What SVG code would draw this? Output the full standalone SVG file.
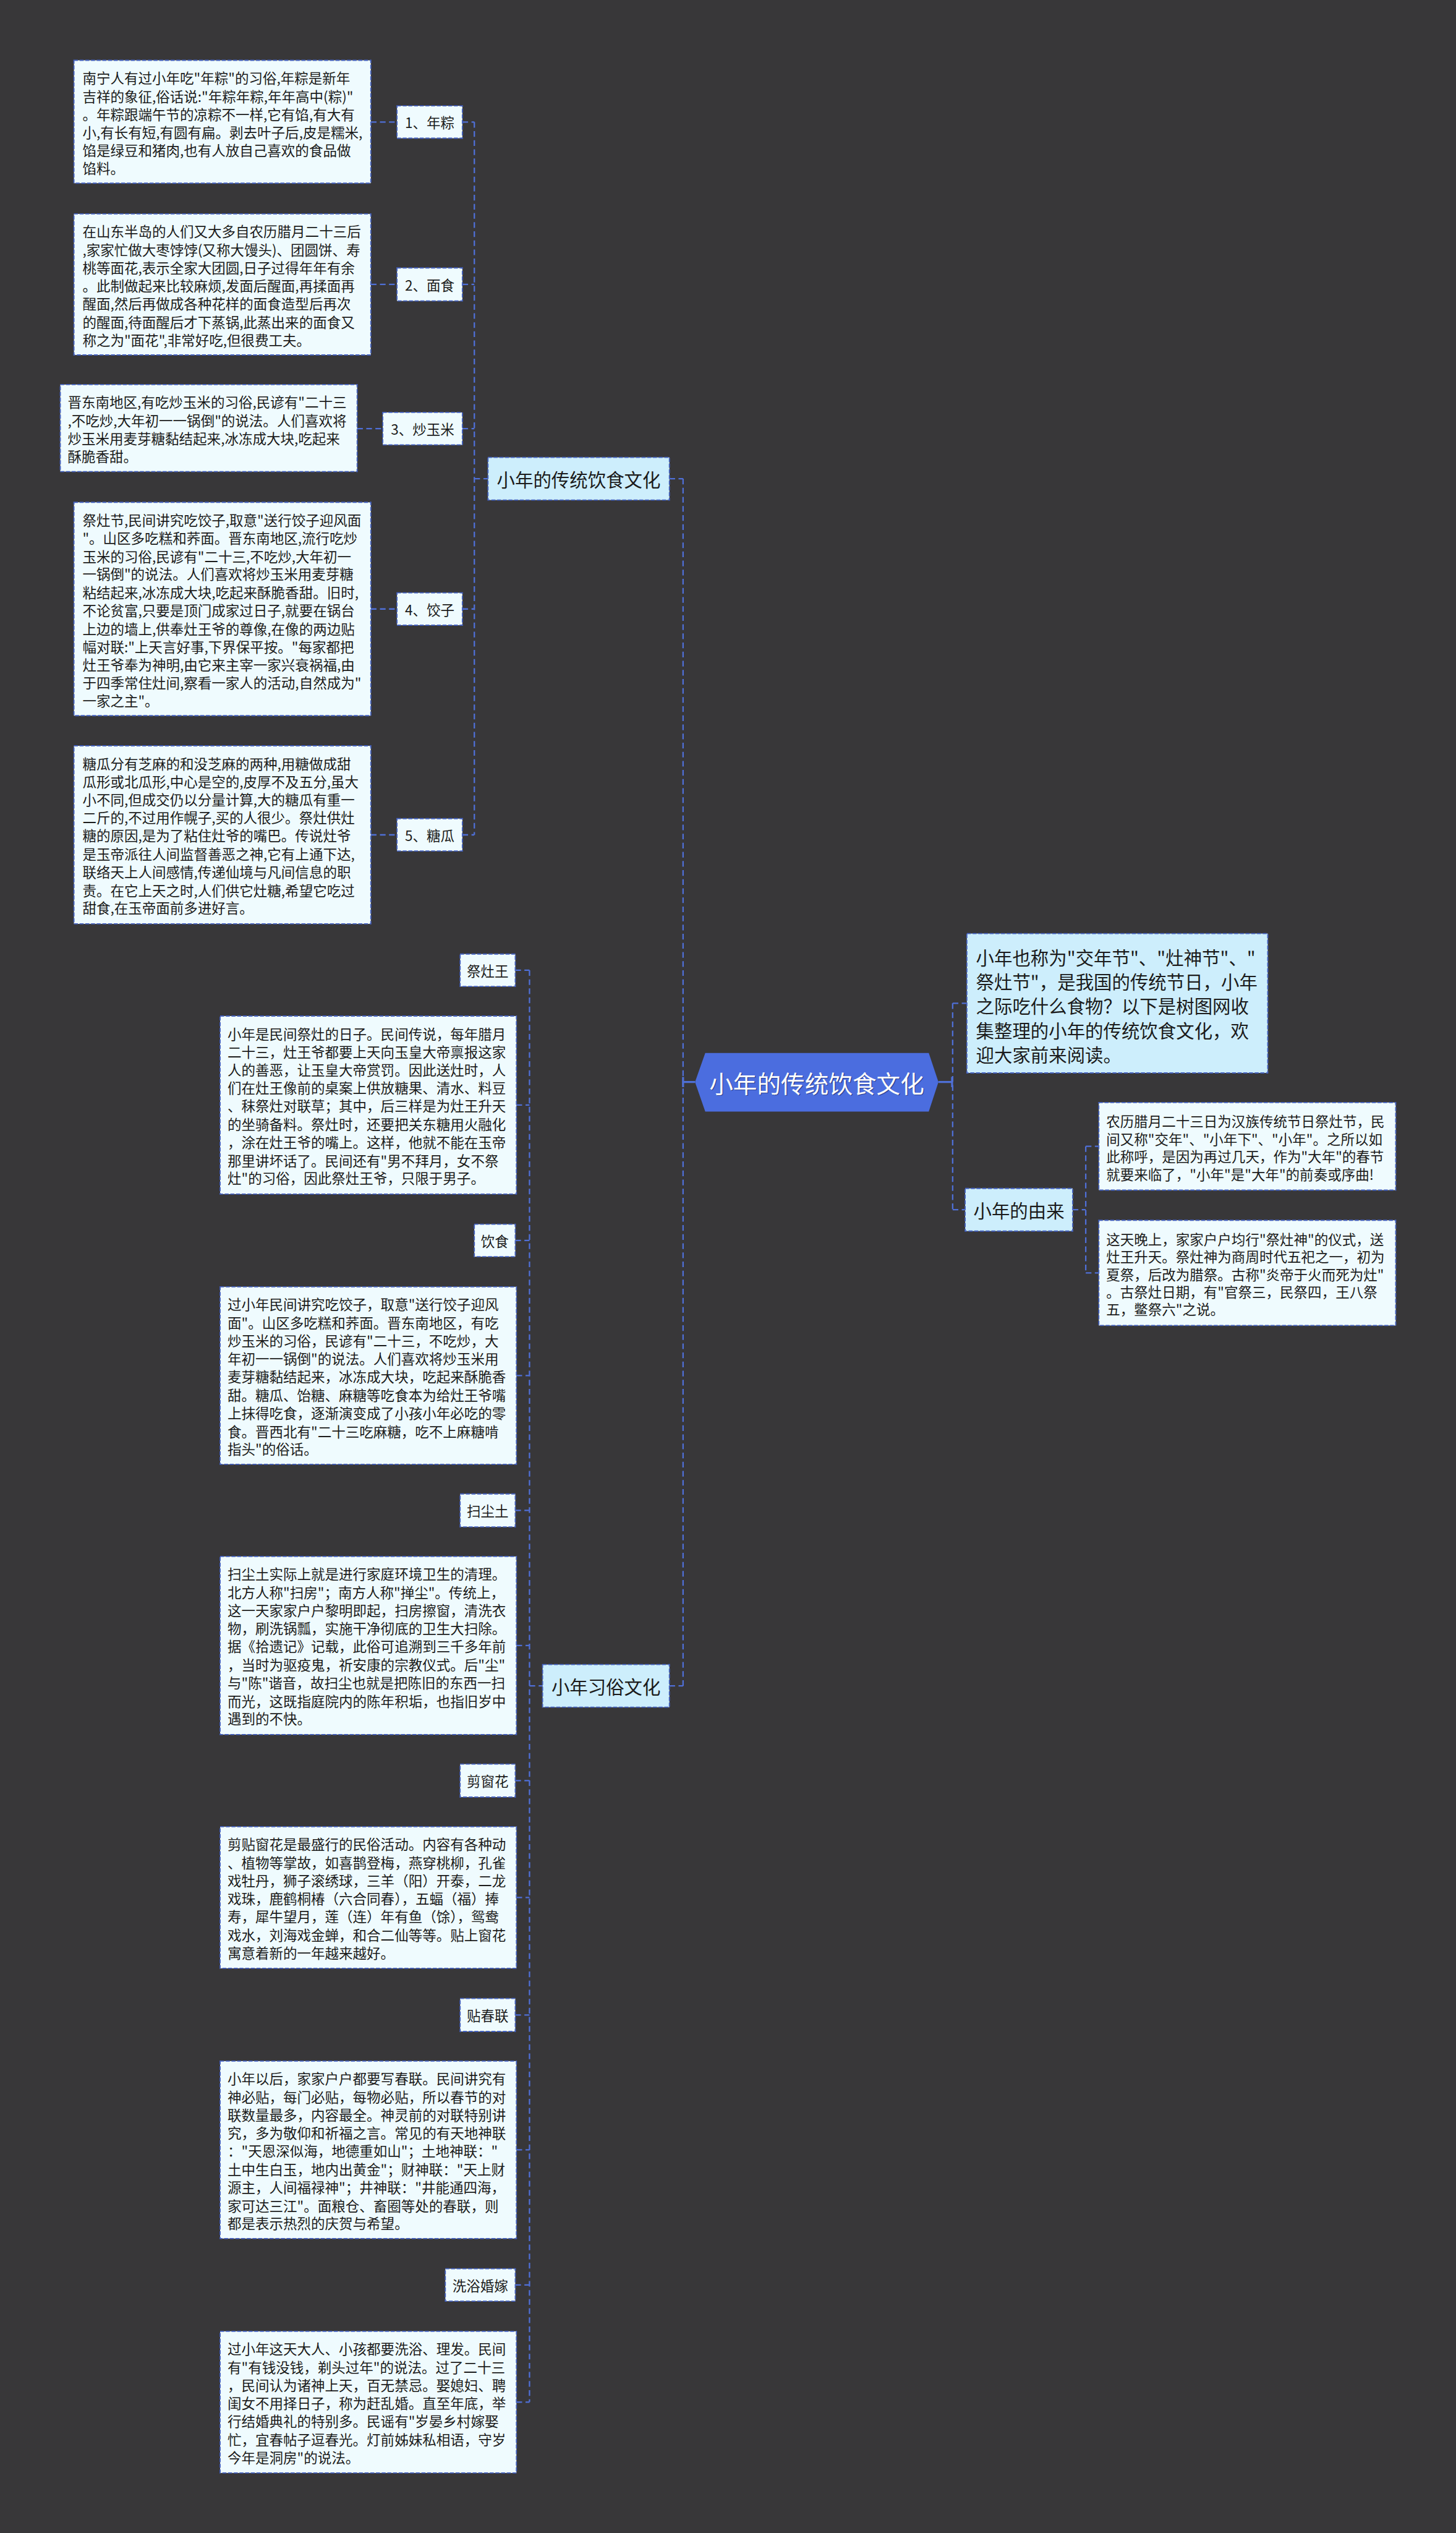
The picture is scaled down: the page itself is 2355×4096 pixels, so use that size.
<svg xmlns="http://www.w3.org/2000/svg" width="2355" height="4096" viewBox="0 0 2355 4096">
<defs>
<style>
.leaf{fill:#effbfe;stroke:#4562c0;stroke-width:2;stroke-dasharray:7 3}
.main{fill:#cdeefc;stroke:#4562c0;stroke-width:2;stroke-dasharray:7 3}
.t{font-family:"Noto Sans CJK SC","Noto Sans",sans-serif;font-size:24.5px;fill:#1b1b1b;dominant-baseline:central}
.m{font-family:"Noto Sans CJK SC","Noto Sans",sans-serif;font-size:32px;fill:#1b1b1b;dominant-baseline:central}
.lb{text-anchor:middle}
.c{fill:none;stroke:#4f6fd6;stroke-width:2.5;stroke-dasharray:10 6}
.s{fill:none;stroke:#4f6fd6;stroke-width:3.5}
</style>
</defs>
<rect x="0" y="0" width="2355" height="4096" fill="#383739"/>
<g transform="scale(0.91992)">
<g id="connectors">
<path class="c" d="M834 214.5V1467.5M813 214.5H834M813 500H834M813 753.5H834M813 1070.5H834M813 1467.5H834M652 214.5H698M652 500H698M628 753.5H673M652 1070.5H698M652 1467.5H698M834 841.5H858"/>
<path class="c" d="M1177 841.5H1201M1201 841.5V2963.5M1177 2963.5H1201"/>
<path class="c" d="M1675 1763.5V2126.5M1675 1763.5H1700M1675 2126.5H1697M1886 2126.5H1909M1909 2015V2237.5M1909 2015H1932M1909 2237.5H1932"/>
<path class="c" d="M931 1705.5V4222.5M906 1705.5H931M908 1942.5H931M906 2180.5H931M908 2418H931M906 2655H931M908 2892.5H931M931 2963.5H954M906 3130H931M908 3335.5H931M906 3542H931M908 3779H931M906 4016.5H931M908 4222.5H931"/>
<path class="s" d="M1201 1902H1222M1201 1893V1911M1650 1902H1674M1674 1893V1911"/>
</g>
<g id="root">
<polygon points="1240,1851 1633,1851 1650,1902 1633,1954 1240,1954 1222,1902" fill="#4b6ddf"/>
<text x="1437.5" y="1903.5" font-family="Noto Sans CJK SC, Noto Sans, sans-serif" font-size="42" text-anchor="middle" dominant-baseline="central" fill="#1d2a5c" opacity="0.6">小年的传统饮食文化</text>
<text x="1436" y="1902" font-family="Noto Sans CJK SC, Noto Sans, sans-serif" font-size="42" text-anchor="middle" dominant-baseline="central" fill="#ffffff">小年的传统饮食文化</text>
</g>
<g id="n-food">
<rect class="main" x="858" y="804" width="319" height="75"/>
<text class="m lb" x="1017.5" y="841.5">小年的传统饮食文化</text>
</g>
<g id="n-custom">
<rect class="main" x="954" y="2926" width="223" height="75"/>
<text class="m lb" x="1065.5" y="2963.5">小年习俗文化</text>
</g>
<g id="n-origin">
<rect class="main" x="1697" y="2089" width="189" height="75"/>
<text class="m lb" x="1791.5" y="2126.5">小年的由来</text>
</g>
<g id="n-intro">
<rect class="main" x="1700" y="1641" width="529" height="245" fill="#c9ecfc"/>
<text class="m" x="1716"><tspan x="1716" y="1682">小年也称为"交年节"、"灶神节"、"</tspan><tspan x="1716" y="1724.5">祭灶节"，是我国的传统节日，小年</tspan><tspan x="1716" y="1767">之际吃什么食物？以下是树图网收</tspan><tspan x="1716" y="1809.5">集整理的小年的传统饮食文化，欢</tspan><tspan x="1716" y="1852">迎大家前来阅读。</tspan></text>
</g>
<g id="n-origin-1">
<rect class="leaf" x="1932" y="1938" width="522" height="154"/>
<text class="t"><tspan x="1945" y="1970">农历腊月二十三日为汉族传统节日祭灶节，民</tspan><tspan x="1945" y="2001">间又称"交年"、"小年下"、"小年"。之所以如</tspan><tspan x="1945" y="2032">此称呼，是因为再过几天，作为"大年"的春节</tspan><tspan x="1945" y="2063">就要来临了，"小年"是"大年"的前奏或序曲!</tspan></text>
</g>
<g id="n-origin-2">
<rect class="leaf" x="1932" y="2145" width="522" height="185"/>
<text class="t"><tspan x="1945" y="2177">这天晚上，家家户户均行"祭灶神"的仪式，送</tspan><tspan x="1945" y="2208">灶王升天。祭灶神为商周时代五祀之一，初为</tspan><tspan x="1945" y="2239">夏祭，后改为腊祭。古称"炎帝于火而死为灶"</tspan><tspan x="1945" y="2270">。古祭灶日期，有"官祭三，民祭四，王八祭</tspan><tspan x="1945" y="2300">五，鳖祭六"之说。</tspan></text>
</g>
<g id="l1">
<rect class="leaf" x="698" y="186" width="115" height="57"/>
<text class="t lb" x="755.5" y="214.5">1、年粽</text>
</g>
<g id="b1">
<rect class="leaf" x="130" y="106" width="522" height="216"/>
<text class="t"><tspan x="145" y="136">南宁人有过小年吃"年粽"的习俗,年粽是新年</tspan><tspan x="145" y="168">吉祥的象征,俗话说:"年粽年粽,年年高中(粽)"</tspan><tspan x="145" y="200">。年粽跟端午节的凉粽不一样,它有馅,有大有</tspan><tspan x="145" y="231">小,有长有短,有圆有扁。剥去叶子后,皮是糯米,</tspan><tspan x="145" y="263">馅是绿豆和猪肉,也有人放自己喜欢的食品做</tspan><tspan x="145" y="295">馅料。</tspan></text>
</g>
<g id="l2">
<rect class="leaf" x="698" y="471" width="115" height="58"/>
<text class="t lb" x="755.5" y="500">2、面食</text>
</g>
<g id="b2">
<rect class="leaf" x="130" y="376" width="522" height="248"/>
<text class="t"><tspan x="145" y="406">在山东半岛的人们又大多自农历腊月二十三后</tspan><tspan x="145" y="438">,家家忙做大枣饽饽(又称大馒头)、团圆饼、寿</tspan><tspan x="145" y="470">桃等面花,表示全家大团圆,日子过得年年有余</tspan><tspan x="145" y="501">。此制做起来比较麻烦,发面后醒面,再揉面再</tspan><tspan x="145" y="533">醒面,然后再做成各种花样的面食造型后再次</tspan><tspan x="145" y="565">的醒面,待面醒后才下蒸锅,此蒸出来的面食又</tspan><tspan x="145" y="597">称之为"面花",非常好吃,但很费工夫。</tspan></text>
</g>
<g id="l3">
<rect class="leaf" x="673" y="725" width="140" height="57"/>
<text class="t lb" x="743" y="753.5">3、炒玉米</text>
</g>
<g id="b3">
<rect class="leaf" x="106" y="676" width="522" height="153"/>
<text class="t"><tspan x="119" y="706">晋东南地区,有吃炒玉米的习俗,民谚有"二十三</tspan><tspan x="119" y="738">,不吃炒,大年初一一锅倒"的说法。人们喜欢将</tspan><tspan x="119" y="770">炒玉米用麦芽糖黏结起来,冰冻成大块,吃起来</tspan><tspan x="119" y="801">酥脆香甜。</tspan></text>
</g>
<g id="l4">
<rect class="leaf" x="698" y="1042" width="115" height="57"/>
<text class="t lb" x="755.5" y="1070.5">4、饺子</text>
</g>
<g id="b4">
<rect class="leaf" x="130" y="883" width="522" height="375"/>
<text class="t"><tspan x="145" y="913">祭灶节,民间讲究吃饺子,取意"送行饺子迎风面</tspan><tspan x="145" y="945">"。山区多吃糕和荞面。晋东南地区,流行吃炒</tspan><tspan x="145" y="977">玉米的习俗,民谚有"二十三,不吃炒,大年初一</tspan><tspan x="145" y="1008">一锅倒"的说法。人们喜欢将炒玉米用麦芽糖</tspan><tspan x="145" y="1040">粘结起来,冰冻成大块,吃起来酥脆香甜。旧时,</tspan><tspan x="145" y="1072">不论贫富,只要是顶门成家过日子,就要在锅台</tspan><tspan x="145" y="1104">上边的墙上,供奉灶王爷的尊像,在像的两边贴</tspan><tspan x="145" y="1136">幅对联:"上天言好事,下界保平按。"每家都把</tspan><tspan x="145" y="1167">灶王爷奉为神明,由它来主宰一家兴衰祸福,由</tspan><tspan x="145" y="1199">于四季常住灶间,察看一家人的活动,自然成为"</tspan><tspan x="145" y="1231">一家之主"。</tspan></text>
</g>
<g id="l5">
<rect class="leaf" x="698" y="1439" width="115" height="57"/>
<text class="t lb" x="755.5" y="1467.5">5、糖瓜</text>
</g>
<g id="b5">
<rect class="leaf" x="130" y="1311" width="522" height="313"/>
<text class="t"><tspan x="145" y="1341">糖瓜分有芝麻的和没芝麻的两种,用糖做成甜</tspan><tspan x="145" y="1373">瓜形或北瓜形,中心是空的,皮厚不及五分,虽大</tspan><tspan x="145" y="1405">小不同,但成交仍以分量计算,大的糖瓜有重一</tspan><tspan x="145" y="1436">二斤的,不过用作幌子,买的人很少。祭灶供灶</tspan><tspan x="145" y="1468">糖的原因,是为了粘住灶爷的嘴巴。传说灶爷</tspan><tspan x="145" y="1500">是玉帝派往人间监督善恶之神,它有上通下达,</tspan><tspan x="145" y="1532">联络天上人间感情,传递仙境与凡间信息的职</tspan><tspan x="145" y="1564">责。在它上天之时,人们供它灶糖,希望它吃过</tspan><tspan x="145" y="1595">甜食,在玉帝面前多进好言。</tspan></text>
</g>
<g id="l6">
<rect class="leaf" x="809" y="1677" width="97" height="57"/>
<text class="t lb" x="857.5" y="1705.5">祭灶王</text>
</g>
<g id="b6">
<rect class="leaf" x="387" y="1786" width="521" height="313"/>
<text class="t"><tspan x="400" y="1816">小年是民间祭灶的日子。民间传说，每年腊月</tspan><tspan x="400" y="1848">二十三，灶王爷都要上天向玉皇大帝禀报这家</tspan><tspan x="400" y="1880">人的善恶，让玉皇大帝赏罚。因此送灶时，人</tspan><tspan x="400" y="1911">们在灶王像前的桌案上供放糖果、清水、料豆</tspan><tspan x="400" y="1943">、秣祭灶对联草；其中，后三样是为灶王升天</tspan><tspan x="400" y="1975">的坐骑备料。祭灶时，还要把关东糖用火融化</tspan><tspan x="400" y="2007">，涂在灶王爷的嘴上。这样，他就不能在玉帝</tspan><tspan x="400" y="2039">那里讲坏话了。民间还有"男不拜月，女不祭</tspan><tspan x="400" y="2070">灶"的习俗，因此祭灶王爷，只限于男子。</tspan></text>
</g>
<g id="l7">
<rect class="leaf" x="834" y="2152" width="72" height="57"/>
<text class="t lb" x="870" y="2180.5">饮食</text>
</g>
<g id="b7">
<rect class="leaf" x="387" y="2262" width="521" height="312"/>
<text class="t"><tspan x="400" y="2292">过小年民间讲究吃饺子，取意"送行饺子迎风</tspan><tspan x="400" y="2324">面"。山区多吃糕和荞面。晋东南地区，有吃</tspan><tspan x="400" y="2356">炒玉米的习俗，民谚有"二十三，不吃炒，大</tspan><tspan x="400" y="2387">年初一一锅倒"的说法。人们喜欢将炒玉米用</tspan><tspan x="400" y="2419">麦芽糖黏结起来，冰冻成大块，吃起来酥脆香</tspan><tspan x="400" y="2451">甜。糖瓜、饴糖、麻糖等吃食本为给灶王爷嘴</tspan><tspan x="400" y="2483">上抹得吃食，逐渐演变成了小孩小年必吃的零</tspan><tspan x="400" y="2515">食。晋西北有"二十三吃麻糖，吃不上麻糖啃</tspan><tspan x="400" y="2546">指头"的俗话。</tspan></text>
</g>
<g id="l8">
<rect class="leaf" x="809" y="2626" width="97" height="58"/>
<text class="t lb" x="857.5" y="2655">扫尘土</text>
</g>
<g id="b8">
<rect class="leaf" x="387" y="2736" width="521" height="313"/>
<text class="t"><tspan x="400" y="2766">扫尘土实际上就是进行家庭环境卫生的清理。</tspan><tspan x="400" y="2798">北方人称"扫房"；南方人称"掸尘"。传统上，</tspan><tspan x="400" y="2830">这一天家家户户黎明即起，扫房擦窗，清洗衣</tspan><tspan x="400" y="2861">物，刷洗锅瓢，实施干净彻底的卫生大扫除。</tspan><tspan x="400" y="2893">据《拾遗记》记载，此俗可追溯到三千多年前</tspan><tspan x="400" y="2925">，当时为驱疫鬼，祈安康的宗教仪式。后"尘"</tspan><tspan x="400" y="2957">与"陈"谐音，故扫尘也就是把陈旧的东西一扫</tspan><tspan x="400" y="2989">而光，这既指庭院内的陈年积垢，也指旧岁中</tspan><tspan x="400" y="3020">遇到的不快。</tspan></text>
</g>
<g id="l9">
<rect class="leaf" x="809" y="3101" width="97" height="58"/>
<text class="t lb" x="857.5" y="3130">剪窗花</text>
</g>
<g id="b9">
<rect class="leaf" x="387" y="3211" width="521" height="249"/>
<text class="t"><tspan x="400" y="3241">剪贴窗花是最盛行的民俗活动。内容有各种动</tspan><tspan x="400" y="3273">、植物等掌故，如喜鹊登梅，燕穿桃柳，孔雀</tspan><tspan x="400" y="3305">戏牡丹，狮子滚绣球，三羊（阳）开泰，二龙</tspan><tspan x="400" y="3336">戏珠，鹿鹤桐椿（六合同春），五蝠（福）捧</tspan><tspan x="400" y="3368">寿，犀牛望月，莲（连）年有鱼（馀），鸳鸯</tspan><tspan x="400" y="3400">戏水，刘海戏金蝉，和合二仙等等。贴上窗花</tspan><tspan x="400" y="3432">寓意着新的一年越来越好。</tspan></text>
</g>
<g id="l10">
<rect class="leaf" x="809" y="3513" width="97" height="58"/>
<text class="t lb" x="857.5" y="3542">贴春联</text>
</g>
<g id="b10">
<rect class="leaf" x="387" y="3623" width="521" height="312"/>
<text class="t"><tspan x="400" y="3653">小年以后，家家户户都要写春联。民间讲究有</tspan><tspan x="400" y="3685">神必贴，每门必贴，每物必贴，所以春节的对</tspan><tspan x="400" y="3717">联数量最多，内容最全。神灵前的对联特别讲</tspan><tspan x="400" y="3748">究，多为敬仰和祈福之言。常见的有天地神联</tspan><tspan x="400" y="3780">："天恩深似海，地德重如山"；土地神联："</tspan><tspan x="400" y="3812">土中生白玉，地内出黄金"；财神联："天上财</tspan><tspan x="400" y="3844">源主，人间福禄神"；井神联："井能通四海，</tspan><tspan x="400" y="3876">家可达三江"。面粮仓、畜圈等处的春联，则</tspan><tspan x="400" y="3907">都是表示热烈的庆贺与希望。</tspan></text>
</g>
<g id="l11">
<rect class="leaf" x="783" y="3988" width="123" height="57"/>
<text class="t lb" x="844.5" y="4016.5">洗浴婚嫁</text>
</g>
<g id="b11">
<rect class="leaf" x="387" y="4098" width="521" height="249"/>
<text class="t"><tspan x="400" y="4128">过小年这天大人、小孩都要洗浴、理发。民间</tspan><tspan x="400" y="4160">有"有钱没钱，剃头过年"的说法。过了二十三</tspan><tspan x="400" y="4192">，民间认为诸神上天，百无禁忌。娶媳妇、聘</tspan><tspan x="400" y="4223">闺女不用择日子，称为赶乱婚。直至年底，举</tspan><tspan x="400" y="4255">行结婚典礼的特别多。民谣有"岁晏乡村嫁娶</tspan><tspan x="400" y="4287">忙，宜春帖子逗春光。灯前姊妹私相语，守岁</tspan><tspan x="400" y="4319">今年是洞房"的说法。</tspan></text>
</g>
</g>
</svg>
